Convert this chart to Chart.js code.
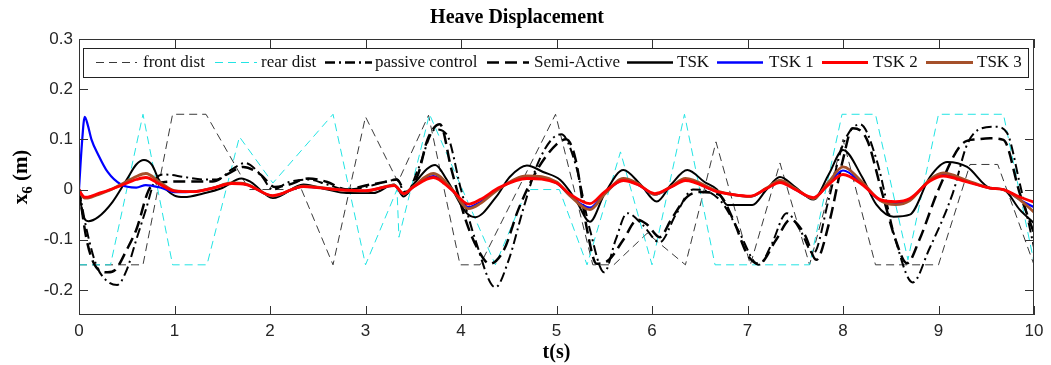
<!DOCTYPE html>
<html><head><meta charset="utf-8">
<script src="https://cdn.jsdelivr.net/npm/chart.js@4.4.1/dist/chart.umd.min.js"></script>
<style>html,body{margin:0;padding:0;background:#fff;} #wrap{width:1051px;height:365px;}</style>
</head><body><div id="wrap"><canvas id="c" width="1051" height="365"></canvas></div>
<script>
const xTicks = [0,1,2,3,4,5,6,7,8,9,10];
const yTicks = [-0.2,-0.1,0,0.1,0.2,0.3];
const seriesNames = ['front dist','rear dist','passive control','Semi-Active','TSK','TSK 1','TSK 2','TSK 3'];

const frontT = [0,0.67,0.98,1.33,1.78,2.33,2.66,3.0,3.34,3.66,3.99,4.2,4.99,5.38,5.6,5.95,6.35,6.67,7.03,7.34,7.65,8.0,8.34,9.0,9.33,9.62,10];
const frontV = [-0.15,-0.15,0.15,0.15,0.0,0.0,-0.15,0.145,0.015,0.148,-0.15,-0.15,0.15,-0.15,-0.15,-0.087,-0.15,0.095,-0.15,0.053,-0.15,0.1,-0.15,-0.15,0.05,0.05,-0.15];

const rearT = [0,0.33,0.67,0.98,1.34,1.68,2.03,2.66,3.0,3.33,3.35,3.67,4.36,4.69,5.03,5.32,5.67,6.0,6.34,6.66,7.65,7.99,8.34,8.68,9.0,9.68,10];
const rearV = [-0.15,-0.15,0.15,-0.15,-0.15,0.105,0.013,0.15,-0.15,0.0,-0.095,0.15,-0.15,0.0,0.0,-0.15,0.075,-0.15,0.15,-0.15,-0.15,0.15,0.15,-0.14,0.15,0.15,-0.145];

const passiveT = [0,0.08,0.18,0.28,0.4,0.5,0.6,0.7,0.8,0.9,1.1,1.3,1.45,1.6,1.74,1.9,2.03,2.2,2.4,2.6,2.8,3.0,3.2,3.33,3.42,3.55,3.73,3.85,4.0,4.15,4.36,4.5,4.65,4.8,4.95,5.05,5.2,5.35,5.5,5.62,5.74,5.9,6.08,6.25,6.43,6.6,6.75,6.9,7.12,7.25,7.41,7.55,7.69,7.85,8.0,8.18,8.35,8.55,8.73,8.9,9.15,9.3,9.45,9.6,9.72,9.85,10];
const passiveV = [0,-0.08,-0.15,-0.18,-0.19,-0.16,-0.1,-0.04,0.02,0.03,0.025,0.02,0.02,0.04,0.053,0.03,0.0,0.015,0.02,0.01,0.0,0.005,0.015,0.02,-0.01,0.04,0.12,0.11,0.0,-0.1,-0.195,-0.14,-0.04,0.05,0.1,0.11,0.05,-0.08,-0.165,-0.1,-0.047,-0.07,-0.105,-0.05,0.0,-0.005,-0.03,-0.08,-0.15,-0.11,-0.047,-0.08,-0.127,-0.02,0.09,0.13,0.06,-0.1,-0.185,-0.12,-0.007,0.09,0.122,0.125,0.112,0.013,-0.115];

const semiT = [0,0.08,0.18,0.3,0.38,0.5,0.6,0.75,0.9,1.1,1.4,1.55,1.72,1.9,2.05,2.2,2.4,2.6,2.8,3.0,3.2,3.33,3.42,3.55,3.65,3.78,3.9,4.06,4.2,4.3,4.45,4.6,4.8,5.0,5.1,5.2,5.32,5.42,5.55,5.7,5.85,5.95,6.08,6.2,6.37,6.5,6.7,6.85,7.0,7.12,7.3,7.45,7.6,7.72,7.85,8.0,8.1,8.25,8.4,8.55,8.67,8.8,9.0,9.26,9.4,9.54,9.68,9.85,10];
const semiV = [0,-0.1,-0.155,-0.165,-0.16,-0.12,-0.08,0.005,0.015,0.016,0.016,0.03,0.045,0.03,0.005,0.01,0.022,0.015,0.0,0.008,0.015,0.02,-0.005,0.03,0.1,0.13,0.04,-0.067,-0.127,-0.148,-0.12,-0.04,0.04,0.09,0.1,0.06,-0.08,-0.148,-0.14,-0.1,-0.06,-0.07,-0.095,-0.06,-0.014,-0.005,-0.01,-0.06,-0.13,-0.148,-0.1,-0.06,-0.09,-0.14,-0.07,0.06,0.122,0.1,0.0,-0.1,-0.147,-0.1,0.0,0.093,0.1,0.102,0.099,-0.007,-0.087];

const tskT = [0,0.04,0.1,0.2,0.35,0.5,0.6,0.68,0.76,0.85,1.0,1.1,1.3,1.5,1.7,1.8,2.03,2.35,2.6,2.8,3.08,3.3,3.4,3.5,3.73,3.85,4.06,4.15,4.37,4.51,4.69,4.86,5.04,5.2,5.35,5.5,5.7,5.88,6.05,6.2,6.37,6.55,6.68,6.79,7.05,7.2,7.34,7.5,7.69,7.85,8.0,8.2,8.35,8.53,8.7,8.91,9.09,9.3,9.54,9.68,9.85,10];
const tskV = [0,-0.05,-0.063,-0.055,-0.025,0.02,0.05,0.059,0.05,0.015,-0.012,-0.015,-0.008,0.003,0.022,0.015,-0.017,0.01,0.0,-0.007,-0.007,0.01,-0.014,0.01,0.049,0.02,-0.047,-0.055,-0.014,0.025,0.048,0.035,0.019,-0.02,-0.064,-0.01,0.039,0.01,-0.024,0.01,0.039,0.015,0.0,-0.031,-0.031,0.0,0.025,0.005,-0.02,0.03,0.079,0.025,-0.03,-0.054,-0.05,0.025,0.055,0.045,0.003,0.0,-0.04,-0.067];

const fuzzyT = [0,0.03,0.06,0.09,0.13,0.2,0.3,0.44,0.6,0.7,0.85,1.0,1.2,1.4,1.6,1.75,2.03,2.35,2.7,3.0,3.3,3.4,3.5,3.71,3.9,4.08,4.2,4.41,4.69,5.0,5.14,5.35,5.5,5.7,5.85,6.03,6.2,6.35,6.68,6.85,7.03,7.2,7.34,7.5,7.69,7.85,8.0,8.2,8.39,8.55,8.7,8.91,9.05,9.3,9.54,9.68,9.85,10];
const tsk1V = [0,0.09,0.145,0.13,0.1,0.07,0.035,0.01,0.004,0.009,0.004,-0.005,-0.004,0.003,0.012,0.01,-0.013,0.006,0.0,-0.003,0.008,-0.009,0.005,0.027,0.0,-0.035,-0.025,0.004,0.024,0.013,-0.012,-0.036,-0.008,0.018,0.01,-0.01,0.005,0.019,-0.004,-0.01,-0.014,0.002,0.015,0.0,-0.017,0.012,0.038,0.012,-0.022,-0.027,-0.02,0.018,0.03,0.016,0.003,0.0,-0.02,-0.035];
const tsk2V = [0,-0.01,-0.015,-0.015,-0.013,-0.008,-0.002,0.008,0.02,0.024,0.01,-0.003,-0.004,0.003,0.012,0.01,-0.012,0.006,0.0,-0.002,0.008,-0.008,0.005,0.024,0.0,-0.029,-0.02,0.005,0.022,0.013,-0.009,-0.028,-0.005,0.018,0.01,-0.008,0.005,0.018,-0.004,-0.01,-0.013,0.002,0.014,0.0,-0.016,0.01,0.03,0.01,-0.02,-0.024,-0.018,0.017,0.027,0.015,0.003,0.0,-0.015,-0.025];
const tsk3V = [0,-0.012,-0.017,-0.017,-0.015,-0.01,-0.003,0.01,0.026,0.032,0.014,-0.002,-0.004,0.003,0.013,0.011,-0.013,0.007,0.0,-0.003,0.009,-0.009,0.006,0.032,0.002,-0.038,-0.028,0.003,0.027,0.015,-0.012,-0.04,-0.01,0.022,0.012,-0.01,0.006,0.022,-0.003,-0.01,-0.014,0.003,0.018,0.002,-0.018,0.015,0.045,0.015,-0.022,-0.03,-0.022,0.02,0.033,0.018,0.003,0.0,-0.02,-0.045];

function pts(T, V) { return T.map((t, i) => ({ x: t, y: V[i] })); }

const styles = [
  { color: '#3a3a3a', width: 1, dash: [8, 5] },
  { color: '#22e4e4', width: 1, dash: [8, 5] },
  { color: '#000000', width: 2, dash: [10, 4, 2, 4] },
  { color: '#000000', width: 2.5, dash: [12, 6] },
  { color: '#000000', width: 2, dash: [] },
  { color: '#0000ff', width: 2.2, dash: [] },
  { color: '#ff0000', width: 2.8, dash: [] },
  { color: '#a5502a', width: 2.8, dash: [] }
];
const seriesData = [pts(frontT, frontV), pts(rearT, rearV), pts(passiveT, passiveV), pts(semiT, semiV),
  pts(tskT, tskV), pts(fuzzyT, tsk1V), pts(fuzzyT, tsk2V), pts(fuzzyT, tsk3V)];
const drawOrder = [7, 6, 5, 4, 3, 2, 0, 1];

const datasets = seriesData.map((d, i) => ({
  label: seriesNames[i],
  data: d,
  borderColor: styles[i].color,
  borderWidth: styles[i].width,
  borderDash: styles[i].dash,
  pointRadius: 0,
  fill: false,
  tension: 0,
  cubicInterpolationMode: i >= 2 ? 'monotone' : 'default',
  order: drawOrder[i]
}));

const legendItems = [
  { line: [96, 137], text: 143 }, { line: [215, 257], text: 261 }, { line: [325, 372], text: 375 },
  { line: [487, 529], text: 534 }, { line: [627, 673], text: 677 }, { line: [717, 763], text: 769 },
  { line: [822, 868], text: 873 }, { line: [926, 973], text: 977 }
];

const framePlugin = {
  id: 'frame',
  afterDraw(chart) {
    const { ctx, chartArea: a, scales: { x, y } } = chart;
    ctx.save();
    ctx.strokeStyle = '#333';
    ctx.lineWidth = 1;
    ctx.setLineDash([]);
    ctx.strokeRect(a.left + 0.5, a.top + 0.5, a.right - a.left - 1, a.bottom - a.top - 1);
    ctx.beginPath();
    xTicks.forEach(v => {
      const p = Math.round(x.getPixelForValue(v)) + 0.5;
      ctx.moveTo(p, a.bottom); ctx.lineTo(p, a.bottom - 9);
      ctx.moveTo(p, a.top); ctx.lineTo(p, a.top + 9);
    });
    yTicks.forEach(v => {
      const p = Math.round(y.getPixelForValue(v)) + 0.5;
      ctx.moveTo(a.left, p); ctx.lineTo(a.left + 9, p);
      ctx.moveTo(a.right, p); ctx.lineTo(a.right - 9, p);
    });
    ctx.stroke();

    // legend box
    ctx.fillStyle = '#fff';
    ctx.fillRect(83, 48, 945, 29);
    ctx.strokeStyle = '#222';
    ctx.strokeRect(83.5, 48.5, 945, 29);
    ctx.font = '17px "Liberation Serif"';
    ctx.textBaseline = 'middle';
    ctx.textAlign = 'left';
    legendItems.forEach((it, i) => {
      const s = styles[i];
      ctx.strokeStyle = s.color;
      ctx.lineWidth = Math.max(s.width, i < 2 ? 1 : 2.5);
      ctx.setLineDash(s.dash);
      ctx.beginPath();
      ctx.moveTo(it.line[0], 62.5); ctx.lineTo(it.line[1], 62.5);
      ctx.stroke();
      ctx.setLineDash([]);
      ctx.fillStyle = '#111';
      ctx.fillText(seriesNames[i], it.text, 63);
    });

    // y axis title with subscript
    ctx.translate(27, 177);
    ctx.rotate(-Math.PI / 2);
    ctx.fillStyle = '#000';
    ctx.textBaseline = 'alphabetic';
    const big = 'bold 21px "Liberation Serif"', small = 'bold 15px "Liberation Serif"';
    ctx.font = big; const wx = ctx.measureText('x').width; const wm = ctx.measureText(' (m)').width;
    ctx.font = small; const w6 = ctx.measureText('6').width;
    let sx = -(wx + w6 + wm) / 2;
    ctx.font = big; ctx.fillText('x', sx, 0); sx += wx;
    ctx.font = small; ctx.fillText('6', sx, 5); sx += w6;
    ctx.font = big; ctx.fillText(' (m)', sx, 0);
    ctx.restore();
  }
};

new Chart(document.getElementById('c'), {
  type: 'line',
  data: { datasets },
  options: {
    responsive: false,
    animation: false,
    devicePixelRatio: 1,
    layout: { padding: { left: 0, right: 17, top: 0, bottom: 0 } },
    plugins: {
      legend: { display: false },
      tooltip: { enabled: false },
      title: {
        display: true, text: 'Heave Displacement', color: '#000',
        font: { family: 'Liberation Serif', size: 20, weight: 'bold' },
        padding: { top: 6, bottom: 9 }
      }
    },
    scales: {
      x: {
        type: 'linear', min: 0, max: 10,
        afterFit(s) { s.height = 50; },
        afterBuildTicks(s) { s.ticks = xTicks.map(v => ({ value: v })); },
        grid: { display: false, drawTicks: false },
        border: { display: false },
        ticks: { padding: 6, color: '#262626', font: { family: 'Liberation Sans', size: 17 }, maxRotation: 0, callback: v => String(v) },
        title: { display: true, text: 't(s)', color: '#000', font: { family: 'Liberation Serif', size: 20, weight: 'bold' }, padding: { top: 0, bottom: 0 } }
      },
      y: {
        type: 'linear', min: -0.25, max: 0.3,
        afterFit(s) { s.width = 79; },
        afterBuildTicks(s) { s.ticks = yTicks.map(v => ({ value: v })); },
        grid: { display: false, drawTicks: false },
        border: { display: false },
        ticks: { padding: 6, color: '#262626', font: { family: 'Liberation Sans', size: 17 }, callback: v => (Math.abs(v) < 1e-9 ? '0' : String(Math.round(v * 10) / 10)) }
      }
    }
  },
  plugins: [framePlugin]
});
</script>
</body></html>
